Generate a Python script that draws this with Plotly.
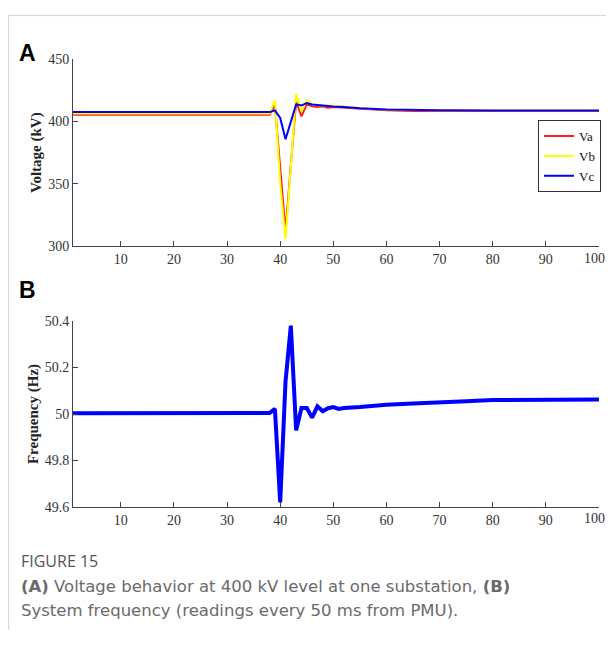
import plotly.graph_objects as go

# ---- data ----
t_v = [1, 38, 39, 40, 41, 42, 43, 44, 45, 46, 47, 48, 49, 50, 52, 55, 60, 65, 70, 80, 90, 100]
va = [405.3, 405.3, 413.0, 365.0, 312.0, 365.0, 416.0, 404.0, 413.6, 412.0, 411.5, 412.0, 411.0, 411.5, 411.0, 410.0, 408.8, 408.3, 408.2, 408.2, 408.3, 408.3]
vb = [406.3, 406.3, 417.3, 350.0, 305.6, 365.0, 422.0, 408.0, 416.8, 414.0, 413.0, 413.0, 412.5, 412.5, 412.0, 410.8, 409.5, 409.0, 408.8, 408.8, 408.8, 408.8]
vc = [407.4, 407.4, 408.8, 402.7, 385.6, 399.0, 413.6, 412.8, 414.6, 413.5, 413.0, 412.5, 412.3, 412.0, 411.5, 410.5, 409.5, 409.0, 408.8, 408.7, 408.7, 408.7]

t_f = [1, 38, 39, 40, 41, 42, 43, 44, 45, 46, 47, 48, 49, 50, 51, 52, 55, 60, 65, 70, 75, 80, 85, 90, 95, 100]
freq = [50.003, 50.005, 50.022, 49.62, 50.14, 50.38, 49.93, 50.026, 50.026, 49.985, 50.033, 50.012, 50.025, 50.03, 50.022, 50.026, 50.03, 50.04, 50.045, 50.052, 50.055, 50.06, 50.061, 50.062, 50.063, 50.063]

v_ticks = [300, 350, 400, 450]
f_ticks = [49.6, 49.8, 50, 50.2, 50.4]
f_labels = ["49.6", "49.8", "50", "50.2", "50.4"]
x_ticks = [10, 20, 30, 40, 50, 60, 70, 80, 90, 100]
x_labels = ["10", "20", "30", "40", "50", "60", "70", "80", "90", ""]
x_last_label = "100"

# page body keeps its default 8px margin
OFF = 8
W, H = 614 - 2 * OFF, 646 - 2 * OFF
def px(x):
    return (x - OFF) / W
def py(y):
    y = (y - 6.2) / 0.976  # compensate observed vertical placement
    return min(1.0, max(0.0, 1 - (y - OFF) / H))

fig = go.Figure()
fig.add_trace(go.Scatter(x=t_v, y=va, mode="lines", name="Va", line=dict(color="#ff1a1a", width=2), xaxis="x", yaxis="y"))
fig.add_trace(go.Scatter(x=t_v, y=vb, mode="lines", name="Vb", line=dict(color="#ffff00", width=2), xaxis="x", yaxis="y"))
fig.add_trace(go.Scatter(x=t_v, y=vc, mode="lines", name="Vc", line=dict(color="#0000ff", width=2), xaxis="x", yaxis="y"))
fig.add_trace(go.Scatter(x=t_f, y=freq, mode="lines", name="f", showlegend=False, line=dict(color="#0000ff", width=4), xaxis="x2", yaxis="y2"))

axis_font = dict(family="Liberation Serif", size=14, color="#333333")
common_x = dict(range=[1, 100], tickvals=x_ticks, ticktext=x_labels, ticks="inside", ticklen=5, tickcolor="#444",
                showline=True, linecolor="#444", linewidth=1, showgrid=False, zeroline=False,
                tickfont=axis_font, domain=[px(73), px(599)])
common_y = dict(ticks="inside", ticklen=5, tickcolor="#444", showline=True, linecolor="#444",
                linewidth=1, showgrid=False, zeroline=False, tickfont=axis_font)

fig.update_layout(
    width=W, height=H, margin=dict(l=0, r=0, t=0, b=0),
    paper_bgcolor="white", plot_bgcolor="white",
    xaxis=dict(**common_x, anchor="y"),
    yaxis=dict(**common_y, range=[300, 450], tickvals=v_ticks, domain=[py(245), py(58)], anchor="x"),
    xaxis2=dict(**common_x, anchor="y2"),
    yaxis2=dict(**common_y, range=[49.6, 50.4], tickvals=f_ticks, ticktext=f_labels, domain=[py(506), py(320)], anchor="x2"),
    legend=dict(x=px(601), y=py(119), xanchor="right", yanchor="top", bgcolor="white",
                bordercolor="#333", borderwidth=1, font=dict(family="Liberation Serif", size=13, color="#111"),
                tracegroupgap=0, itemwidth=30),
    showlegend=True,
)

def note(text, x, y, font, xanchor="left", angle=0):
    return dict(text=text, x=px(x), y=py(y), xref="paper", yref="paper", xanchor=xanchor,
                yanchor="middle", textangle=angle, showarrow=False, font=font)

title_font = dict(family="Liberation Serif", size=15, color="#222")
cap_font = dict(family="DejaVu Sans", size=16.5, color="#6a6a6a")
ann = [
    note("<b>Voltage (kV)</b>", 36, 151, title_font, xanchor="center", angle=-90),
    note("<b>Frequency (Hz)</b>", 33, 413, title_font, xanchor="center", angle=-90),
    note("<b>A</b>", 17, 52, dict(family="Liberation Sans", size=23, color="#000")),
    note("<b>B</b>", 17, 289, dict(family="Liberation Sans", size=23, color="#000")),
    note("FIGURE 15", 19, 560, dict(family="Open Sans", size=16, color="#555555")),
    note("<b>(A)</b> Voltage behavior at 400 kV level at one substation, <b>(B)</b>", 19, 585, cap_font),
    note("System frequency (readings every 50 ms from PMU).", 19, 609, cap_font),
]
# last x tick label placed at the right edge so it stays inside the page
for yl in (257, 517):
    ann.append(dict(text=x_last_label, x=1, y=py(yl), xref="paper", yref="paper", xanchor="right",
                    yanchor="middle", showarrow=False, font=axis_font, xshift=1))
fig.update_layout(annotations=ann)

fig.add_shape(type="line", xref="paper", yref="paper", x0=0, x1=1, y0=0.999, y1=0.999, line=dict(color="#d4d4d4", width=1))
fig.add_shape(type="line", xref="paper", yref="paper", x0=0.001, x1=0.001, y0=0.999, y1=0, line=dict(color="#d4d4d4", width=1))

fig.write_html("out.html", config={"displayModeBar": False})
